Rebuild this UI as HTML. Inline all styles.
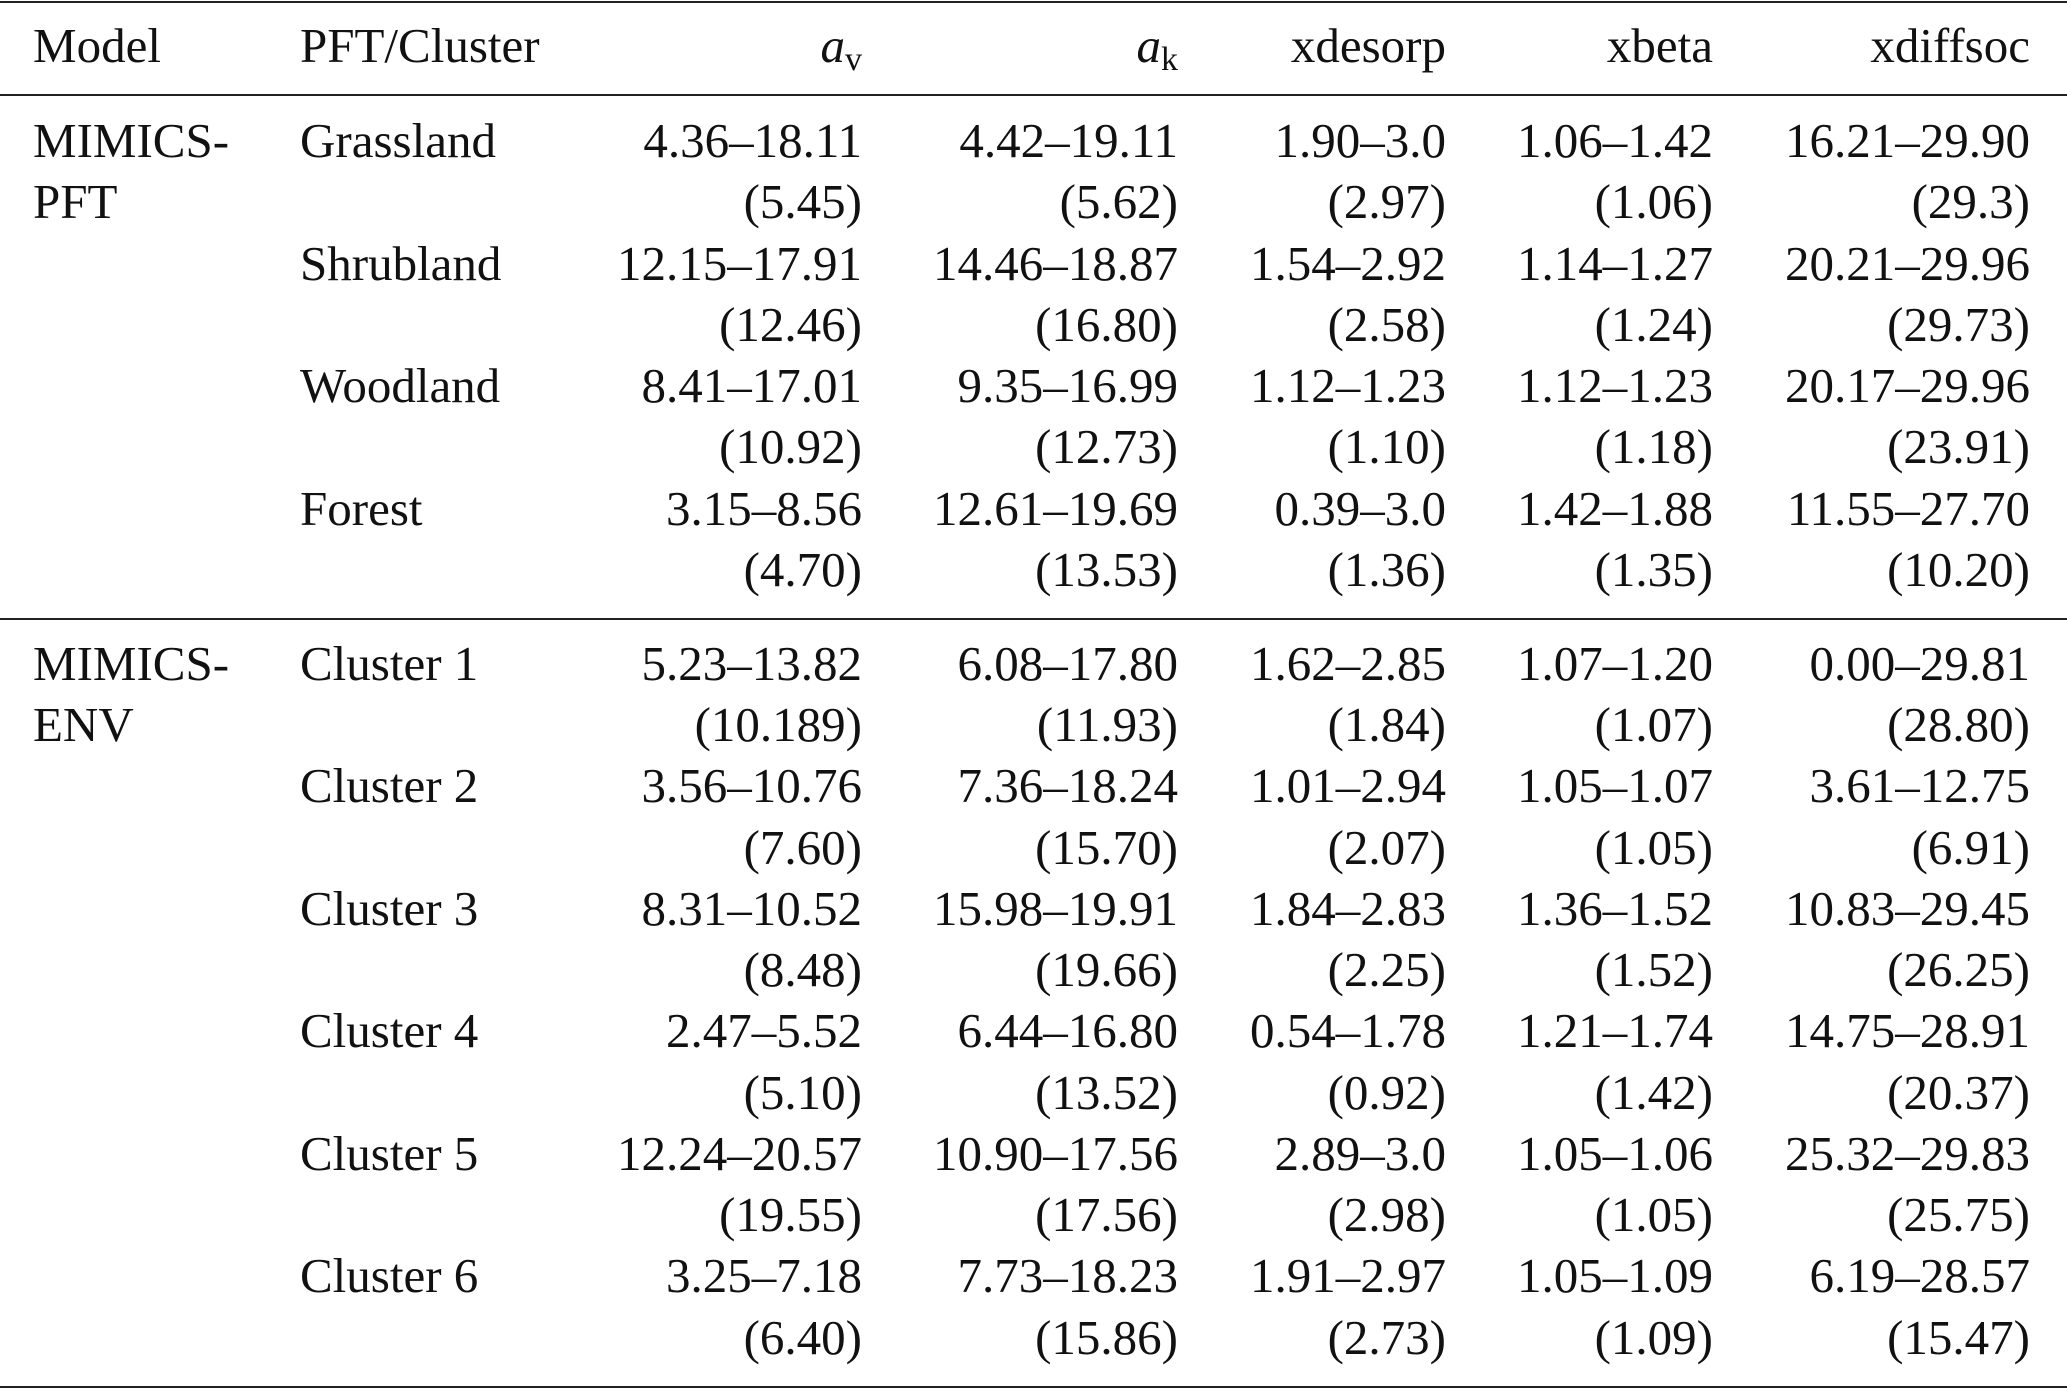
<!DOCTYPE html>
<html><head><meta charset="utf-8"><style>
html,body{margin:0;padding:0;background:#fff}
body{width:2067px;height:1391px;position:relative;overflow:hidden;font-family:"Liberation Serif","Times New Roman",serif;font-size:49px;color:#111}
.hl{position:absolute;left:0;width:2067px;height:2px;background:#222}
.r{position:absolute;left:0;width:2067px;height:62px;line-height:62px}
.r span{position:absolute;top:0;white-space:nowrap}
.c0{left:33px}.c1{left:300px}
.c2{right:1205px}.c3{right:889px}.c4{right:621px}.c5{right:354px}.c6{right:37px}
i{font-style:italic}
sub{font-size:34px;vertical-align:-8px;line-height:0}
</style></head><body>
<div class="hl" style="top:1px"></div>
<div class="hl" style="top:94px"></div>
<div class="hl" style="top:618px"></div>
<div class="hl" style="top:1386px"></div>

<div class="r" style="top:15px"><span class="c0">Model</span><span class="c1">PFT/Cluster</span><span class="c2"><i>a</i><sub>v</sub></span><span class="c3"><i>a</i><sub>k</sub></span><span class="c4">xdesorp</span><span class="c5">xbeta</span><span class="c6">xdiffsoc</span></div>

<div class="r" style="top:110px"><span class="c0">MIMICS-</span><span class="c1">Grassland</span><span class="c2">4.36–18.11</span><span class="c3">4.42–19.11</span><span class="c4">1.90–3.0</span><span class="c5">1.06–1.42</span><span class="c6">16.21–29.90</span></div>
<div class="r" style="top:171px"><span class="c0">PFT</span><span class="c2">(5.45)</span><span class="c3">(5.62)</span><span class="c4">(2.97)</span><span class="c5">(1.06)</span><span class="c6">(29.3)</span></div>
<div class="r" style="top:233px"><span class="c1">Shrubland</span><span class="c2">12.15–17.91</span><span class="c3">14.46–18.87</span><span class="c4">1.54–2.92</span><span class="c5">1.14–1.27</span><span class="c6">20.21–29.96</span></div>
<div class="r" style="top:294px"><span class="c2">(12.46)</span><span class="c3">(16.80)</span><span class="c4">(2.58)</span><span class="c5">(1.24)</span><span class="c6">(29.73)</span></div>
<div class="r" style="top:355px"><span class="c1">Woodland</span><span class="c2">8.41–17.01</span><span class="c3">9.35–16.99</span><span class="c4">1.12–1.23</span><span class="c5">1.12–1.23</span><span class="c6">20.17–29.96</span></div>
<div class="r" style="top:416px"><span class="c2">(10.92)</span><span class="c3">(12.73)</span><span class="c4">(1.10)</span><span class="c5">(1.18)</span><span class="c6">(23.91)</span></div>
<div class="r" style="top:478px"><span class="c1">Forest</span><span class="c2">3.15–8.56</span><span class="c3">12.61–19.69</span><span class="c4">0.39–3.0</span><span class="c5">1.42–1.88</span><span class="c6">11.55–27.70</span></div>
<div class="r" style="top:539px"><span class="c2">(4.70)</span><span class="c3">(13.53)</span><span class="c4">(1.36)</span><span class="c5">(1.35)</span><span class="c6">(10.20)</span></div>

<div class="r" style="top:633px"><span class="c0">MIMICS-</span><span class="c1">Cluster 1</span><span class="c2">5.23–13.82</span><span class="c3">6.08–17.80</span><span class="c4">1.62–2.85</span><span class="c5">1.07–1.20</span><span class="c6">0.00–29.81</span></div>
<div class="r" style="top:694px"><span class="c0">ENV</span><span class="c2">(10.189)</span><span class="c3">(11.93)</span><span class="c4">(1.84)</span><span class="c5">(1.07)</span><span class="c6">(28.80)</span></div>
<div class="r" style="top:755px"><span class="c1">Cluster 2</span><span class="c2">3.56–10.76</span><span class="c3">7.36–18.24</span><span class="c4">1.01–2.94</span><span class="c5">1.05–1.07</span><span class="c6">3.61–12.75</span></div>
<div class="r" style="top:817px"><span class="c2">(7.60)</span><span class="c3">(15.70)</span><span class="c4">(2.07)</span><span class="c5">(1.05)</span><span class="c6">(6.91)</span></div>
<div class="r" style="top:878px"><span class="c1">Cluster 3</span><span class="c2">8.31–10.52</span><span class="c3">15.98–19.91</span><span class="c4">1.84–2.83</span><span class="c5">1.36–1.52</span><span class="c6">10.83–29.45</span></div>
<div class="r" style="top:939px"><span class="c2">(8.48)</span><span class="c3">(19.66)</span><span class="c4">(2.25)</span><span class="c5">(1.52)</span><span class="c6">(26.25)</span></div>
<div class="r" style="top:1000px"><span class="c1">Cluster 4</span><span class="c2">2.47–5.52</span><span class="c3">6.44–16.80</span><span class="c4">0.54–1.78</span><span class="c5">1.21–1.74</span><span class="c6">14.75–28.91</span></div>
<div class="r" style="top:1062px"><span class="c2">(5.10)</span><span class="c3">(13.52)</span><span class="c4">(0.92)</span><span class="c5">(1.42)</span><span class="c6">(20.37)</span></div>
<div class="r" style="top:1123px"><span class="c1">Cluster 5</span><span class="c2">12.24–20.57</span><span class="c3">10.90–17.56</span><span class="c4">2.89–3.0</span><span class="c5">1.05–1.06</span><span class="c6">25.32–29.83</span></div>
<div class="r" style="top:1184px"><span class="c2">(19.55)</span><span class="c3">(17.56)</span><span class="c4">(2.98)</span><span class="c5">(1.05)</span><span class="c6">(25.75)</span></div>
<div class="r" style="top:1245px"><span class="c1">Cluster 6</span><span class="c2">3.25–7.18</span><span class="c3">7.73–18.23</span><span class="c4">1.91–2.97</span><span class="c5">1.05–1.09</span><span class="c6">6.19–28.57</span></div>
<div class="r" style="top:1307px"><span class="c2">(6.40)</span><span class="c3">(15.86)</span><span class="c4">(2.73)</span><span class="c5">(1.09)</span><span class="c6">(15.47)</span></div>
</body></html>
